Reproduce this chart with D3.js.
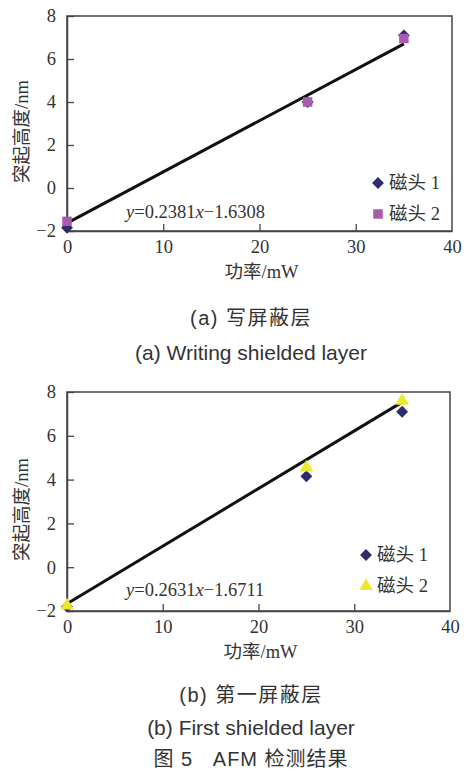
<!DOCTYPE html>
<html>
<head>
<meta charset="utf-8">
<script src="https://cdn.jsdelivr.net/npm/d3@7"></script>
<style>
  body { margin: 0; background: #fff; }
  svg text { fill: #333; white-space: pre; }
</style>
</head>
<body>
<svg id="fig" width="467" height="778"></svg>
<script>
// values
var power = [0, 25, 35];
var writeHead1 = [-1.85, 4.0, 7.1];
var writeHead2 = [-1.55, 4.0, 6.95];
var firstHead1 = [-1.8, 4.15, 7.1];
var firstHead2 = [-1.75, 4.55, 7.6];
var writeFit = [0.2381, -1.6308];
var firstFit = [0.2631, -1.6711];
var xTicks = [0, 10, 20, 30, 40];
var yTicks = [-2, 0, 2, 4, 6, 8];
var headNames = ["磁头 1", "磁头 2"];

var serif = "'Liberation Serif', 'Noto Sans CJK SC', serif";
var sans = "'Liberation Sans', 'Noto Sans CJK SC', sans-serif";
var svg = d3.select("#fig");

function fmt(v){ return v < 0 ? "\u2212" + Math.abs(v) : "" + v; }

function drawPanel(p){
    var x = d3.scaleLinear().domain([0, 40]).range([p.left, p.right]);
    var y = d3.scaleLinear().domain([-2, 8]).range([p.bottom, p.top]);
    var g = svg.append("g");

    // frame
    g.append("rect")
        .attr("x", p.left).attr("y", p.top)
        .attr("width", p.right - p.left).attr("height", p.bottom - p.top)
        .attr("fill", "none").attr("stroke", "#444").attr("stroke-width", 1.5);

    var xa = g.append("g").attr("transform", "translate(0," + p.bottom + ")")
        .call(d3.axisBottom(x).tickValues(xTicks).tickSizeInner(-7).tickSizeOuter(0).tickPadding(9).tickFormat(fmt));
    var ya = g.append("g").attr("transform", "translate(" + p.left + ",0)")
        .call(d3.axisLeft(y).tickValues(yTicks).tickSizeInner(-7).tickSizeOuter(0).tickPadding(11).tickFormat(fmt));
    [xa, ya].forEach(function(a){
        a.select(".domain").attr("stroke", "#444").attr("stroke-width", 1.5);
        a.selectAll(".tick line").attr("stroke", "#444").attr("stroke-width", 1.3);
        a.selectAll(".tick text").attr("font-family", serif).attr("font-size", 18.5).attr("fill", "#333");
    });
    xa.selectAll(".tick").filter(function(d){ return d == 0 || d == 40; }).select("line").remove();

    // fitted line
    var ext = d3.extent(power);
    var fitLine = d3.line().x(function(d){ return x(d); }).y(function(d){ return y(p.fit[0] * d + p.fit[1]); });
    g.append("path").datum(ext).attr("d", fitLine)
        .attr("stroke", "#111").attr("stroke-width", 3).attr("fill", "none");

    // points
    var sym1 = d3.symbol().type(d3.symbolDiamond2).size(90);
    var sym2 = d3.symbol().type(p.sym2).size(p.sym2Size);
    g.selectAll(".h1").data(power).enter().append("path")
        .attr("d", sym1)
        .attr("transform", function(d, i){ return "translate(" + x(d) + "," + y(p.head1[i]) + ")"; })
        .attr("fill", "#2f2c6b");
    g.selectAll(".h2").data(power).enter().append("path")
        .attr("d", sym2)
        .attr("transform", function(d, i){ return "translate(" + x(d) + "," + y(p.head2[i]) + ")"; })
        .attr("fill", p.color2);

    // equation
    var eq = g.append("text").attr("x", p.eqX).attr("y", p.eqY)
        .attr("font-family", serif).attr("font-size", 18.5);
    eq.append("tspan").attr("font-style", "italic").text("y");
    eq.append("tspan").text("=" + p.fit[0]);
    eq.append("tspan").attr("font-style", "italic").text("x");
    eq.append("tspan").text("\u2212" + Math.abs(p.fit[1]));

    // legend
    headNames.forEach(function(name, i){
        var ly = p.legY + i * 31;
        g.append("path")
            .attr("d", i == 0 ? sym1 : sym2)
            .attr("transform", "translate(" + p.legX + "," + ly + ")")
            .attr("fill", i == 0 ? "#2f2c6b" : p.color2);
        g.append("text").attr("x", p.legX + 11).attr("y", ly + 6)
            .attr("font-family", serif).attr("font-size", 18.5).text(name);
    });

    // axis titles
    g.append("text").attr("x", (p.left + p.right) / 2 + 2).attr("y", p.bottom + 47)
        .attr("text-anchor", "middle").attr("font-family", serif).attr("font-size", 18.5).text("功率/mW");
    g.append("text")
        .attr("transform", "translate(28," + ((p.top + p.bottom) / 2 + 8) + ") rotate(-90)")
        .attr("text-anchor", "middle").attr("font-family", serif).attr("font-size", 18.5).text("突起高度/nm");

    // captions
    p.captions.forEach(function(c){
        svg.append("text").attr("x", 251).attr("y", c[0])
            .attr("text-anchor", "middle").attr("font-family", sans).attr("font-size", c[2])
            .attr("letter-spacing", c[3]).attr("fill", "#222").text(c[1]);
    });
}

drawPanel({
    left: 67, right: 452, top: 16, bottom: 231,
    head1: writeHead1, head2: writeHead2, fit: writeFit,
    sym2: d3.symbolSquare, sym2Size: 90, color2: "#a95bb0",
    eqX: 126, eqY: 218, legX: 378, legY: 183,
    captions: [[325, "(a) 写屏蔽层", 20, 1.5], [360, "(a) Writing shielded layer", 21, 0]]
});

drawPanel({
    left: 67, right: 450, top: 392, bottom: 611,
    head1: firstHead1, head2: firstHead2, fit: firstFit,
    sym2: d3.symbolTriangle, sym2Size: 80, color2: "#ebe830",
    eqX: 126, eqY: 596, legX: 366, legY: 555,
    captions: [[702, "(b) 第一屏蔽层", 20, 1.5], [735, "(b) First shielded layer", 21, 0], [766, "图 5   AFM 检测结果", 20, 1]]
});
</script>
</body>
</html>
